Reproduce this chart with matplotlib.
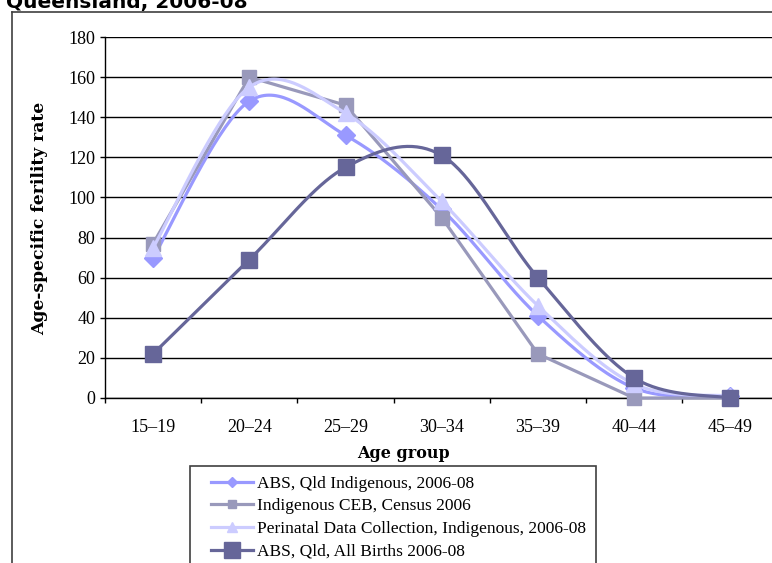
import numpy as np
import matplotlib
matplotlib.use('Agg')
import matplotlib.pyplot as plt
from matplotlib.lines import Line2D
from matplotlib.patches import Rectangle

# ---------------- data ----------------
age_groups = ['15–19', '20–24', '25–29', '30–34', '35–39', '40–44', '45–49']
abs_qld_indigenous = [70, 148, 131, 94, 41, 5, 1]
indigenous_ceb = [77, 160, 146, 90, 22, 0, 0]
perinatal_indigenous = [75, 155, 142, 98, 46, 7, 1]
abs_qld_all_births = [22, 69, 115, 121, 60, 10, 0]
series_names = ['ABS, Qld Indigenous, 2006-08',
                'Indigenous CEB, Census 2006',
                'Perinatal Data Collection, Indigenous, 2006-08',
                'ABS, Qld, All Births 2006-08']
y_ticks = list(range(0, 181, 20))
title_text = 'Queensland, 2006-08'
x_label = 'Age group'
y_label = 'Age-specific ferility rate'

# ---------------- style ----------------
colors = ['#9999FF', '#9999BB', '#CCCCFF', '#666699']
markers = ['D', 's', '^', 's']
msizes = [9, 10.5, 11, 11.5]
leg_msizes = [5.5, 6, 6.5, 11.5]
smoothed = [True, False, True, True]
serif = 'Liberation Serif'

W, H = 772, 563
fig = plt.figure(figsize=(W / 100, H / 100), dpi=100)
fig.patch.set_facecolor('white')


def fx(px):
    return px / W


def fy(py):
    return 1 - py / H


def smooth(xs, ys, n=40):
    P = np.column_stack([xs, ys]).astype(float)
    out = []
    for i in range(len(P) - 1):
        p0 = P[i - 1] if i > 0 else P[i]
        p1, p2 = P[i], P[i + 1]
        p3 = P[i + 2] if i + 2 < len(P) else P[i + 1]
        c1 = p1 + (p2 - p0) / 6
        c2 = p2 - (p3 - p1) / 6
        t = np.linspace(0, 1, n)[:, None]
        seg = (1 - t) ** 3 * p1 + 3 * (1 - t) ** 2 * t * c1 + 3 * (1 - t) * t ** 2 * c2 + t ** 3 * p2
        out.append(seg if i == 0 else seg[1:])
    out = np.vstack(out)
    return out[:, 0], out[:, 1]


# axes: left at x=105px, x-axis at y=398px, top (180) at y=37px, category width 96.2px
cat_w = 96.2
ax = fig.add_axes([fx(105), 1 - 398 / H, 7 * cat_w / W, (398 - 37) / H])
ax.set_xlim(-0.5, 6.5)
ax.set_ylim(0, 180)

xs = np.arange(len(age_groups))
all_series = [abs_qld_indigenous, indigenous_ceb, perinatal_indigenous, abs_qld_all_births]
for k, ys in enumerate(all_series):
    if smoothed[k]:
        sx, sy = smooth(xs, ys)
    else:
        sx, sy = xs, ys
    ax.plot(sx, sy, color=colors[k], lw=2.3, zorder=3 + k, solid_capstyle='round',
            solid_joinstyle='round', clip_on=False)
    ax.plot(xs, ys, linestyle='none', marker=markers[k], markersize=msizes[k],
            color=colors[k], markeredgecolor=colors[k], zorder=3.5 + k, clip_on=False)

ax.set_yticks(y_ticks)
ax.set_yticklabels([str(v) for v in y_ticks], fontfamily=serif, fontsize=13)
ax.set_xticks(np.arange(-0.5, 7, 1.0))
ax.set_xticklabels([])
ax.set_xticks(xs, minor=True)
ax.set_xticklabels(age_groups, minor=True, fontfamily=serif, fontsize=13)
ax.tick_params(axis='y', which='major', direction='out', length=3.6, width=1, pad=3.6,
               colors='black')
ax.tick_params(axis='x', which='major', direction='out', length=3.6, width=1)
ax.tick_params(axis='x', which='minor', length=0, pad=15)
ax.grid(axis='y', color='black', lw=1, zorder=1)
ax.set_axisbelow(True)
for s in ['top', 'right']:
    ax.spines[s].set_visible(False)
for s in ['left', 'bottom']:
    ax.spines[s].set_color('black')
    ax.spines[s].set_linewidth(1)
    ax.spines[s].set_zorder(2)

# axis titles
fig.text(fx(403), fy(458), x_label, ha='center', va='baseline', fontfamily='DejaVu Serif',
         fontweight='bold', fontsize=11.5)
fig.text(fx(40), fy(218), y_label, ha='center', va='center', rotation=90,
         fontfamily='DejaVu Serif', fontweight='bold', fontsize=12.3)

# chart title (cropped at top)
fig.text(fx(6), fy(8), title_text, ha='left', va='baseline', fontfamily='DejaVu Sans',
         fontweight='bold', fontsize=14.5)

# outer chart frame (cropped)
fig.add_artist(Line2D([fx(12), fx(12)], [fy(12), fy(600)], transform=fig.transFigure,
                      color='#404040', lw=1.2))
fig.add_artist(Line2D([fx(12), fx(800)], [fy(12), fy(12)], transform=fig.transFigure,
                      color='#404040', lw=1.2))

# legend
handles = [Line2D([], [], color=colors[k], lw=2.3, marker=markers[k],
                  markersize=leg_msizes[k], markeredgecolor=colors[k])
           for k in range(4)]
leg = fig.legend(handles, series_names, loc='upper left',
                 bbox_to_anchor=(fx(211), fy(475.5)), frameon=False, borderpad=0,
                 borderaxespad=0, handlelength=2.4, handletextpad=0.25,
                 labelspacing=0.38, prop={'family': serif, 'size': 12.5})
fig.add_artist(Rectangle((fx(190), fy(620)), fx(596) - fx(190), fy(466) - fy(620),
                         transform=fig.transFigure, fill=False, edgecolor='#404040',
                         lw=1.2))

fig.savefig('out.png', dpi=100, facecolor='white')
